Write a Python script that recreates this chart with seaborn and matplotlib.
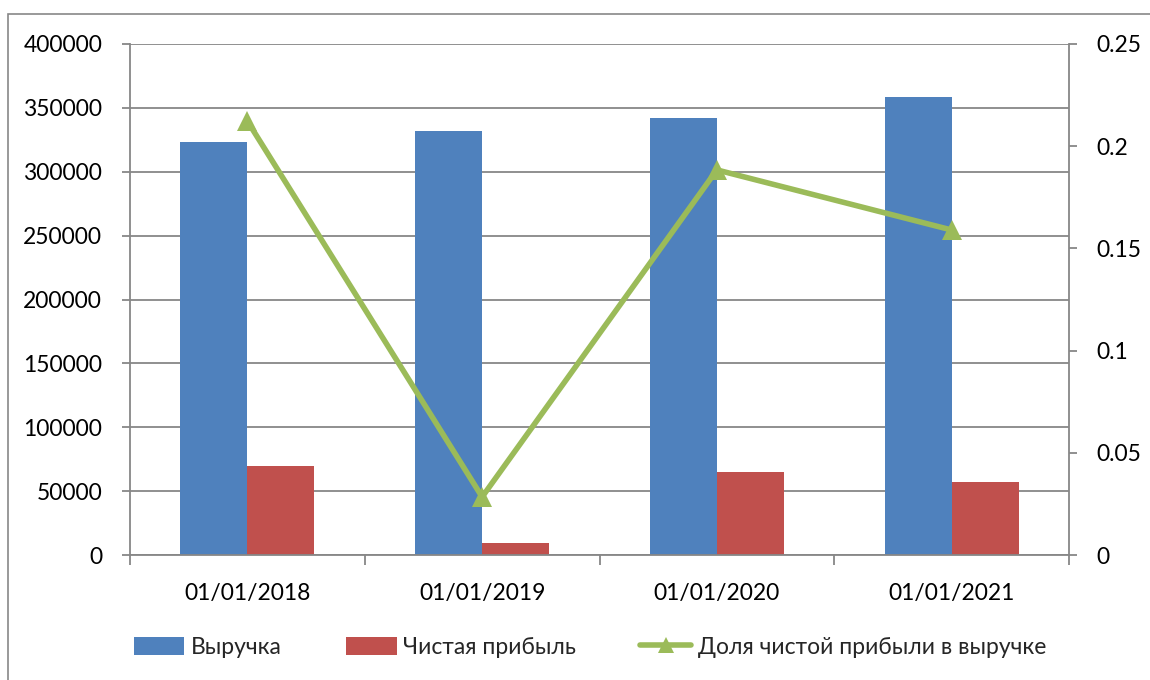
import numpy as np
import pandas as pd
import matplotlib
matplotlib.use("Agg")
import matplotlib.pyplot as plt
import seaborn as sns
from matplotlib.patches import Patch, Rectangle
from matplotlib.lines import Line2D
from matplotlib.ticker import FuncFormatter, MultipleLocator, FixedLocator

dates = ["01/01/2018", "01/01/2019", "01/01/2020", "01/01/2021"]
revenue = [323300, 331900, 342100, 358500]
net_profit = [69700, 9400, 65000, 57000]
share = [0.2123, 0.0284, 0.1884, 0.1590]
series_names = ["Выручка", "Чистая прибыль", "Доля чистой прибыли в выручке"]

sns.set_theme(style="white")
plt.rcParams['font.family'] = ['Lato', 'DejaVu Sans']

df = pd.DataFrame({
    "date": dates * 2,
    "value": revenue + net_profit,
    "series": [series_names[0]] * 4 + [series_names[1]] * 4,
})

blue, red, green = "#4F81BD", "#C0504D", "#9BBB59"
grid_c = "#878787"
fs = 16.5

fig = plt.figure(figsize=(11.5, 6.8), dpi=100)
ax = fig.add_axes([130/1150, 1-555/680, (1069-130)/1150, (555-44)/680])

sns.barplot(data=df, x="date", y="value", hue="series", palette=[blue, red],
            width=0.57, gap=0, ax=ax, legend=False, saturation=1, linewidth=0)

ax.set_xlim(-0.5, 3.5)
ax.set_ylim(0, 400000)
ax.yaxis.set_major_locator(MultipleLocator(50000))
ax.set_axisbelow(True)
ax.grid(axis="y", color=grid_c, linewidth=1.3)
ax.set_xlabel("")
ax.set_ylabel("")
for s in ["top", "right"]:
    ax.spines[s].set_visible(False)
for s in ["left", "bottom"]:
    ax.spines[s].set_color(grid_c)
    ax.spines[s].set_linewidth(1.3)
ax.tick_params(axis="y", which="major", left=True, length=6, width=1.3, color=grid_c,
               labelsize=fs, labelcolor="black", pad=14)
ax.xaxis.set_minor_locator(FixedLocator([-0.5, 0.5, 1.5, 2.5, 3.5]))
ax.tick_params(axis="x", which="major", length=0, labelsize=fs, labelcolor="black", pad=20)
ax.tick_params(axis="x", which="minor", bottom=True, length=7, width=1.3, color=grid_c)

ax2 = ax.twinx()
sns.lineplot(x=np.arange(len(dates)), y=share, ax=ax2, color=green, linewidth=4,
             marker="^", markersize=14, markeredgewidth=0, legend=False)
ax2.set_ylim(0, 0.25)
ax2.yaxis.set_major_locator(MultipleLocator(0.05))
ax2.yaxis.set_major_formatter(FuncFormatter(lambda v, p: f"{v:g}"))
ax2.set_ylabel("")
for s in ["top", "left", "bottom"]:
    ax2.spines[s].set_visible(False)
ax2.spines["right"].set_color(grid_c)
ax2.spines["right"].set_linewidth(1.3)
ax2.tick_params(axis="y", right=True, length=6, width=1.3, color=grid_c,
                labelsize=fs, labelcolor="black", pad=14)
ax2.set_xlim(-0.5, 3.5)

handles = [
    Patch(facecolor=blue, edgecolor="none"),
    Patch(facecolor=red, edgecolor="none"),
    Line2D([0], [0], color=green, linewidth=4, marker="^", markersize=12, markeredgewidth=0),
]
fig.legend(handles, series_names, loc="center", bbox_to_anchor=(0.513, 0.048), ncol=3,
           frameon=False, fontsize=fs, handlelength=2.2, handleheight=0.8,
           columnspacing=2.8, handletextpad=0.3)

fig.patches.append(Rectangle((8/1150, -0.02), 1.05, 1-14/680 + 0.02, transform=fig.transFigure,
                             fill=False, edgecolor=grid_c, linewidth=1.2, zorder=0))

fig.savefig("out.png", dpi=100)
